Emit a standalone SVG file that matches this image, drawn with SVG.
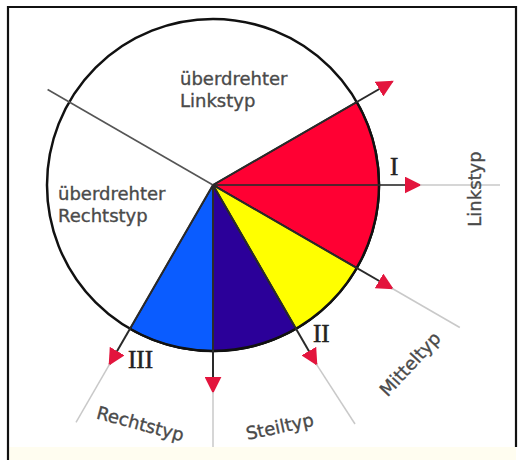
<svg xmlns="http://www.w3.org/2000/svg" width="522" height="460" viewBox="0 0 522 460">
<style>
.lbl{font-family:"DejaVu Sans","Liberation Sans",sans-serif;font-size:18px;fill:#4a4a4a;stroke:#4a4a4a;stroke-width:0.35}
.num{font-family:"Liberation Serif","DejaVu Serif",serif;font-size:25px;fill:#222;stroke:#222;stroke-width:0.5}
.ray{stroke:#2a2a2a;stroke-width:2;fill:none;marker-end:url(#ah)}
.ext{stroke:#c9c9c9;stroke-width:1.5;fill:none}
.sec{stroke:#1a1a1a;stroke-width:1.5;stroke-linejoin:round}
</style>
<defs>
<marker id="ah" viewBox="0 0 10 10" refX="9" refY="5" markerWidth="17" markerHeight="17" markerUnits="userSpaceOnUse" orient="auto">
<path d="M0,0 L10,5 L0,10 Z" fill="#e3153d"/>
</marker>
</defs>
<rect x="0" y="0" width="522" height="460" fill="#ffffff"/>
<rect x="8" y="447" width="508" height="13" fill="#fffdf0"/>
<path d="M8,460 L8,7 L516,7 L516,447" fill="none" stroke="#111" stroke-width="2.2"/>

<g id="wheel">
<circle cx="213" cy="185" r="166" fill="#ffffff" stroke="#111" stroke-width="2.5"/>
<path id="sector-red" class="sec" d="M213,185 L356.76,102 A166,166 0 0 1 356.76,268 Z" fill="#ff0033"/>
<path id="sector-yellow" class="sec" d="M213,185 L356.76,268 A166,166 0 0 1 296,328.76 Z" fill="#ffff00"/>
<path id="sector-indigo" class="sec" d="M213,185 L296,328.76 A166,166 0 0 1 213,351 Z" fill="#2b0099"/>
<path id="sector-blue" class="sec" d="M213,185 L213,351 A166,166 0 0 1 130,328.76 Z" fill="#0a5cff"/>
<path d="M356.76,102 A166,166 0 0 1 130,328.76" fill="none" stroke="#111" stroke-width="2.5"/>
</g>

<g id="connectors">
<line x1="213" y1="185" x2="47.6" y2="89.5" stroke="#555" stroke-width="1.6"/>
<line class="ray" x1="213" y1="185" x2="392.3" y2="81.5"/>
<line class="ray" x1="213" y1="185" x2="420" y2="185" stroke-opacity="0.8"/>
<line class="ray" x1="213" y1="185" x2="392.3" y2="288.5"/>
<line class="ray" x1="213" y1="185" x2="316.5" y2="364.3"/>
<line class="ray" x1="213" y1="185" x2="213" y2="392"/>
<line class="ray" x1="213" y1="185" x2="109.5" y2="364.3"/>
<line class="ext" x1="420" y1="185" x2="500" y2="185"/>
<line class="ext" x1="392.3" y1="288.5" x2="459.8" y2="327.5"/>
<line class="ext" x1="316.5" y1="364.3" x2="355" y2="424"/>
<line class="ext" x1="213" y1="392" x2="213" y2="447"/>
<line class="ext" x1="109.5" y1="364.3" x2="76" y2="422.3"/>
</g>

<g id="label-ueberdrehter-linkstyp">
<text class="lbl" x="180" y="85">überdrehter</text>
<text class="lbl" x="180" y="107">Linkstyp</text>
</g>
<g id="label-ueberdrehter-rechtstyp">
<text class="lbl" x="58" y="200">überdrehter</text>
<text class="lbl" x="58" y="222">Rechtstyp</text>
</g>
<g id="label-linkstyp">
<text class="lbl" text-anchor="middle" transform="translate(481,189) rotate(-90)">Linkstyp</text>
</g>
<g id="label-mitteltyp">
<text class="lbl" text-anchor="middle" transform="translate(411,365) rotate(-47)" y="5">Mitteltyp</text>
</g>
<g id="label-steiltyp">
<text class="lbl" text-anchor="middle" transform="translate(280,428) rotate(-12)" y="5">Steiltyp</text>
</g>
<g id="label-rechtstyp">
<text class="lbl" text-anchor="middle" transform="translate(140,425) rotate(15)" y="5">Rechtstyp</text>
</g>
<g id="numerals">
<text class="num" x="390" y="175">I</text>
<text class="num" x="313" y="342">II</text>
<text class="num" x="128" y="368">III</text>
</g>
</svg>
